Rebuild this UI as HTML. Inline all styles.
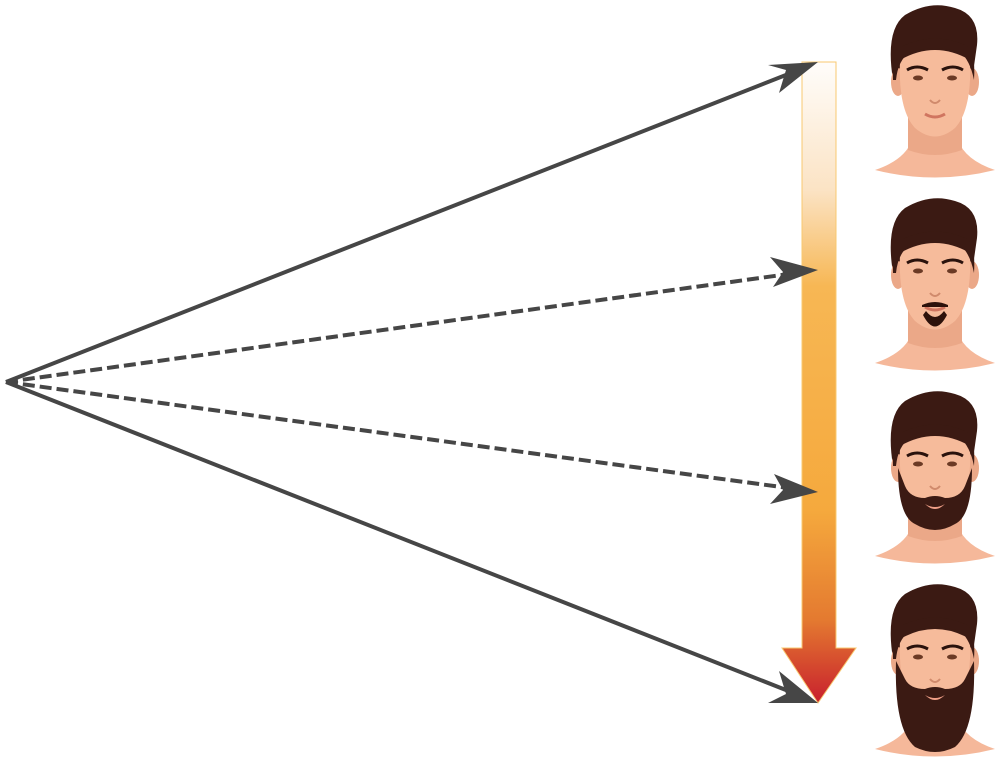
<!DOCTYPE html>
<html><head><meta charset="utf-8"><style>html,body{margin:0;padding:0;background:#fff}svg{display:block}</style></head>
<body>
<svg width="1000" height="760" viewBox="0 0 1000 760" xmlns="http://www.w3.org/2000/svg">
<defs>
<linearGradient id="g" x1="0" y1="62" x2="0" y2="703" gradientUnits="userSpaceOnUse">
<stop offset="0" stop-color="#fffdfb"/>
<stop offset="0.2" stop-color="#fbe3c4"/>
<stop offset="0.35" stop-color="#f7b754"/>
<stop offset="0.7" stop-color="#f5a93d"/>
<stop offset="0.87" stop-color="#e47a30"/>
<stop offset="1" stop-color="#c8202d"/>
</linearGradient>
<g id="face">
<path d="M875,170 Q905,160 912,140 L958,140 Q965,160 995,170 Q935,185 875,170Z" fill="#f5b89a"/>
<path d="M908,105 L962,105 L962,150 Q935,160 908,150Z" fill="#eba888"/>
<path d="M893,80 Q885,30 905,15 Q930,0 955,8 Q980,15 977,45 L972,80 Z" fill="#3b1a13"/>
<ellipse cx="898" cy="82" rx="7" ry="14" fill="#eba888"/>
<ellipse cx="972" cy="82" rx="7" ry="14" fill="#eba888"/>
<path d="M900,60 Q898,110 915,128 Q935,145 955,128 Q972,110 970,60 Q935,40 900,60Z" fill="#f6bb9b"/>
<path d="M893,80 Q892,50 905,45 Q935,32 965,45 Q976,50 974,80 Q970,60 960,52 Q935,45 910,52 Q898,60 896,80Z" fill="#3b1a13"/>
<path d="M907,70 Q917,64 928,70" stroke="#2a120c" stroke-width="3" fill="none"/>
<path d="M942,70 Q953,64 963,70" stroke="#2a120c" stroke-width="3" fill="none"/>
<ellipse cx="918" cy="78" rx="5" ry="2.5" fill="#6b3a25"/>
<ellipse cx="952" cy="78" rx="5" ry="2.5" fill="#6b3a25"/>
<path d="M930,100 Q935,106 940,100" stroke="#d08a6c" stroke-width="2" fill="none"/>
<path d="M925,114 Q935,120 945,114" stroke="#d07560" stroke-width="3" fill="none"/>
</g>
</defs>
<use href="#face"/>
<g transform="translate(0,193)"><use href="#face"/>
<path d="M922,112 Q935,106 948,112 L948,114 L922,114Z M923,122 Q935,145 947,122 L944,118 Q935,130 926,118Z" fill="#2d120b"/></g>
<g transform="translate(0,386)"><use href="#face"/>
<path d="M898,82 Q898,130 915,138 Q935,150 955,138 Q972,130 972,82 L965,100 Q960,112 945,112 Q935,108 925,112 Q910,112 905,100Z" fill="#3b1a13"/>
<path d="M925,118 Q935,124 945,118 Q935,128 925,118Z" fill="#f0a088"/></g>
<g transform="translate(0,579)"><use href="#face"/>
<path d="M896,82 Q894,150 915,168 Q935,178 955,168 Q976,150 974,82 L965,100 Q960,110 945,110 Q935,106 925,110 Q910,110 905,100Z" fill="#3b1a13"/>
<path d="M925,116 Q935,122 945,116 Q935,126 925,116Z" fill="#f0a088"/></g>

<path d="M802,62 L836,62 L836,648 L856,648 L818,703 L782,648 L802,648Z" fill="url(#g)" stroke="#f8c870" stroke-width="1"/>

<g stroke="#464646" stroke-width="4" fill="none">
<line x1="6" y1="382" x2="796" y2="71"/>
<line x1="6" y1="382" x2="796" y2="694"/>
<line x1="6" y1="382" x2="796" y2="273" stroke-dasharray="12,5"/>
<line x1="6" y1="382" x2="796" y2="489" stroke-dasharray="12,5"/>
</g>
<g fill="#464646">
<path d="M818,62 L779,93 L786,70 L768,65Z" />
<path d="M818,703 L768,703 L786,694 L779,671Z" />
<path d="M818,270 L773,287 L783,272 L770,257Z"/>
<path d="M818,492 L770,504 L783,490 L774,474Z"/>
</g>
</svg>
</body></html>
